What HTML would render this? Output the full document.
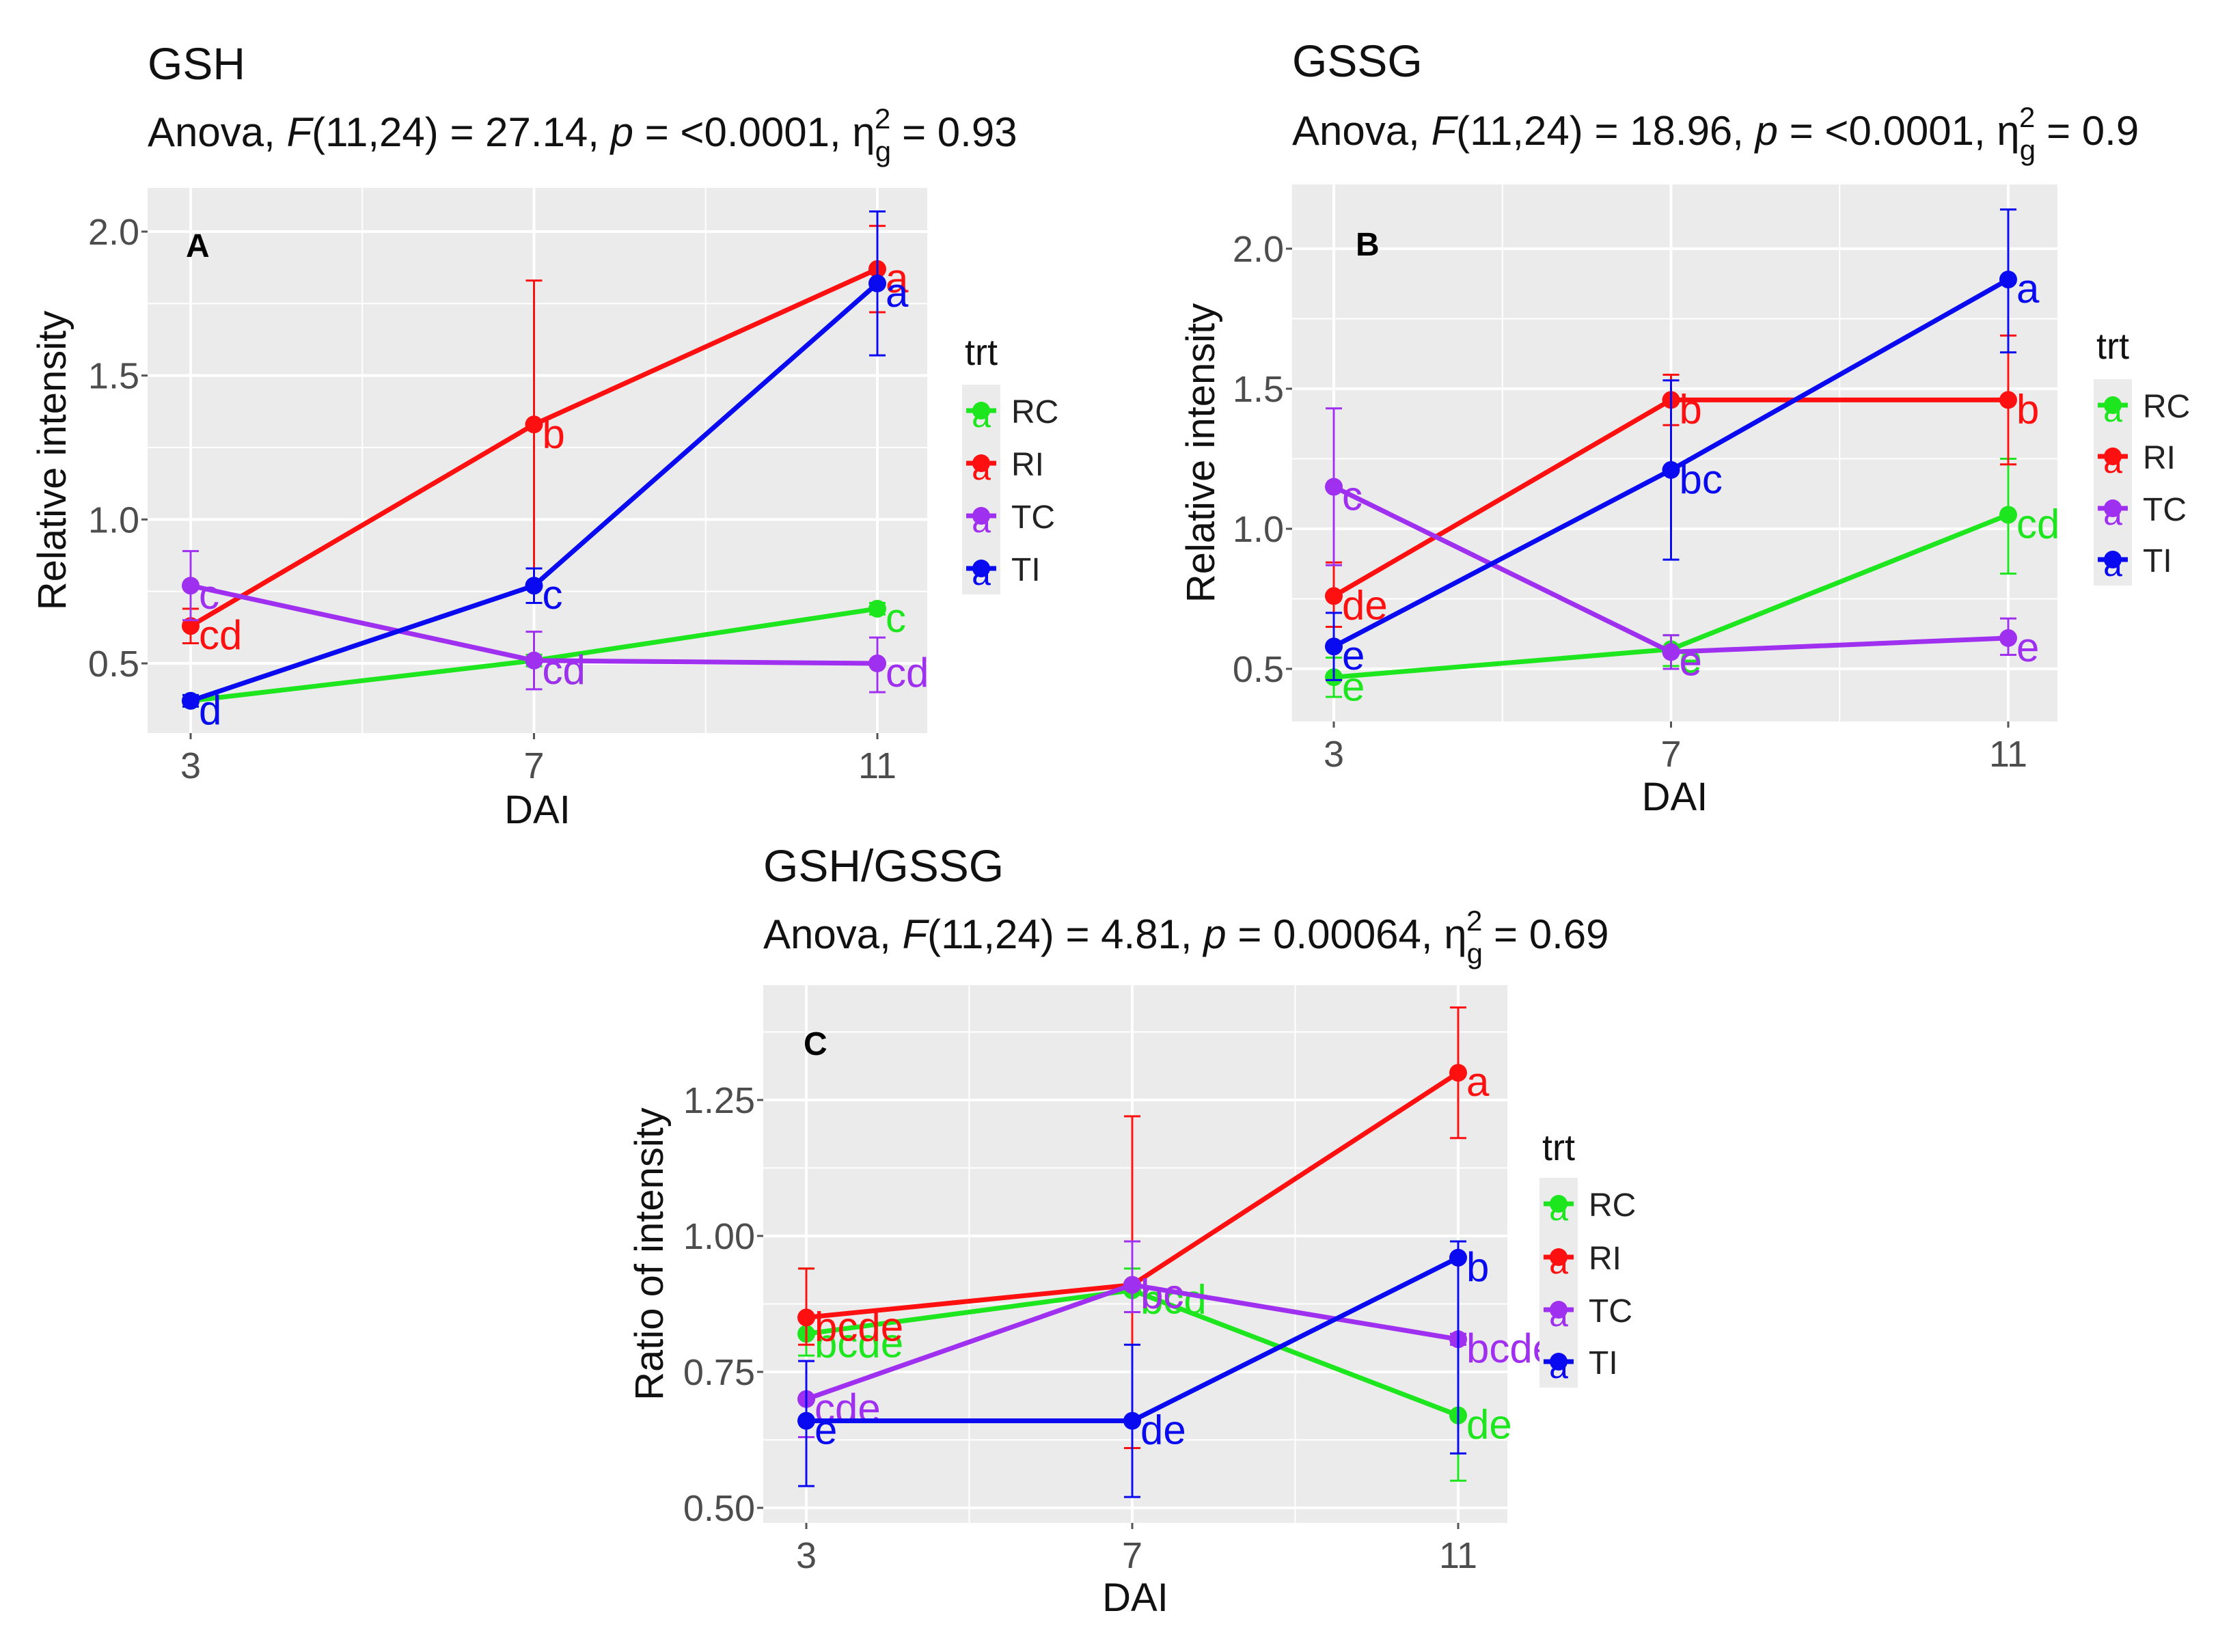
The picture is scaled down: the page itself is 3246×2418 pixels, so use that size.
<!DOCTYPE html>
<html><head><meta charset="utf-8"><style>
html,body{margin:0;padding:0;background:#fff;}
svg{display:block;font-family:"Liberation Sans",Arial,sans-serif;}
</style></head>
<body>
<svg id="fig" width="3246" height="2418" viewBox="0 0 3246 2418" xmlns="http://www.w3.org/2000/svg"></svg>
<script>
// ---------- data ----------
const days = [3, 7, 11];
const groups = ["RC", "RI", "TC", "TI"];
const colors = {RC:"#1ee61e", RI:"#ff1010", TC:"#a030f0", TI:"#0a0af0"};

// Panel A (GSH)
const gshMean = {RC:[0.37,0.51,0.69], RI:[0.63,1.33,1.87], TC:[0.77,0.51,0.50], TI:[0.37,0.77,1.82]};
const gshLo   = {RC:[0.35,0.49,0.67], RI:[0.57,0.83,1.72], TC:[0.65,0.41,0.40], TI:[0.35,0.71,1.57]};
const gshHi   = {RC:[0.39,0.53,0.71], RI:[0.69,1.83,2.02], TC:[0.89,0.61,0.59], TI:[0.39,0.83,2.07]};
const gshLetters = {RC:["d","cd","c"], RI:["cd","b","a"], TC:["c","cd","cd"], TI:["d","c","a"]};
const gshTicks = [0.5, 1.0, 1.5, 2.0];
const gshTickLabels = ["0.5","1.0","1.5","2.0"];

// Panel B (GSSG)
const gssgMean = {RC:[0.47,0.57,1.05], RI:[0.76,1.46,1.46], TC:[1.15,0.56,0.61], TI:[0.58,1.21,1.89]};
const gssgLo   = {RC:[0.40,0.51,0.84], RI:[0.65,1.37,1.23], TC:[0.87,0.50,0.55], TI:[0.46,0.89,1.63]};
const gssgHi   = {RC:[0.54,0.62,1.25], RI:[0.88,1.55,1.69], TC:[1.43,0.62,0.68], TI:[0.70,1.53,2.14]};
const gssgLetters = {RC:["e","e","cd"], RI:["de","b","b"], TC:["c","e","e"], TI:["e","bc","a"]};
const gssgTicks = [0.5, 1.0, 1.5, 2.0];
const gssgTickLabels = ["0.5","1.0","1.5","2.0"];

// Panel C (GSH/GSSG)
const ratioMean = {RC:[0.82,0.90,0.67], RI:[0.85,0.91,1.30], TC:[0.70,0.91,0.81], TI:[0.66,0.66,0.96]};
const ratioLo   = {RC:[0.78,0.86,0.55], RI:[0.80,0.61,1.18], TC:[0.63,0.86,0.80], TI:[0.54,0.52,0.60]};
const ratioHi   = {RC:[0.94,0.94,0.80], RI:[0.94,1.22,1.42], TC:[0.77,0.99,0.82], TI:[0.77,0.80,0.99]};
const ratioLetters = {RC:["bcde","bcd","de"], RI:["bcde","bc","a"], TC:["cde","bc","bcde"], TI:["e","de","b"]};
const ratioTicks = [0.50, 0.75, 1.00, 1.25];
const ratioTickLabels = ["0.50","0.75","1.00","1.25"];
const dayLabels = ["3","7","11"];

// ---------- drawing ----------
const NS = "http://www.w3.org/2000/svg";
const svg = document.getElementById("fig");
function mk(tag, attrs, parent, name){
  const e = document.createElementNS(NS, tag);
  for (const k in attrs) e.setAttribute(k, attrs[k]);
  
  
  (parent||svg).appendChild(e);
  return e;
}

function panel(cfg){
  const g = mk("g", {}, svg, cfg.id);
  const L=cfg.box[0], T=cfg.box[1], R=cfg.box[2], B=cfg.box[3];
  const xs = d => cfg.x3 + (d-3)*(cfg.x11-cfg.x3)/8;
  const ys = v => cfg.yA + (v-cfg.vA)*(cfg.yB-cfg.yA)/(cfg.vB-cfg.vA);
  const t1 = mk("text", {x:L, y:cfg.titleY, "font-size":66, fill:"#111"}, g, "panel-title");
  t1.textContent = cfg.title;
  const t2 = mk("text", {x:L, y:cfg.subY, "font-size":60, fill:"#111"}, g, "anova-subtitle");
  t2.innerHTML = 'Anova, <tspan font-style="italic">F</tspan>(11,24) = '+cfg.F+', <tspan font-style="italic">p</tspan> = '+cfg.p+', η<tspan dy="22" font-size="42">g</tspan><tspan dy="-48" dx="-24" font-size="42">2</tspan><tspan dy="26"> = '+cfg.eta+'</tspan>';
  mk("rect", {x:L, y:T, width:R-L, height:B-T, fill:"#ebebeb"}, g, "plot-background");
  [5,9].forEach(d=>mk("line",{x1:xs(d),x2:xs(d),y1:T,y2:B,stroke:"#fff","stroke-width":2},g,"x-minor-grid"));
  for (let i=0;i<cfg.ticks.length-1;i++){
    const v=(cfg.ticks[i]+cfg.ticks[i+1])/2;
    mk("line",{x1:L,x2:R,y1:ys(v),y2:ys(v),stroke:"#fff","stroke-width":2},g,"y-minor-grid");
  }
  const step = cfg.ticks[1]-cfg.ticks[0];
  [cfg.ticks[0]-step/2, cfg.ticks[cfg.ticks.length-1]+step/2].forEach(v=>{
    const y=ys(v); if (y>T && y<B) mk("line",{x1:L,x2:R,y1:y,y2:y,stroke:"#fff","stroke-width":2},g,"y-minor-grid");
  });
  days.forEach((d,i)=>{
    mk("line",{x1:xs(d),x2:xs(d),y1:T,y2:B,stroke:"#fff","stroke-width":4},g,"x-major-grid");
    mk("line",{x1:xs(d),x2:xs(d),y1:B,y2:B+9,stroke:"#555","stroke-width":3},g,"x-tick");
    const tl = mk("text",{x:xs(d),y:B+66,"font-size":54,"text-anchor":"middle",fill:"#4d4d4d"},g,"x-tick-label");
    tl.textContent = dayLabels[i];
  });
  cfg.ticks.forEach((v,i)=>{
    mk("line",{x1:L,x2:R,y1:ys(v),y2:ys(v),stroke:"#fff","stroke-width":4},g,"y-major-grid");
    mk("line",{x1:L-9,x2:L,y1:ys(v),y2:ys(v),stroke:"#555","stroke-width":3},g,"y-tick");
    const tl = mk("text",{x:L-12,y:ys(v)+19,"font-size":54,"text-anchor":"end",fill:"#4d4d4d"},g,"y-tick-label");
    tl.textContent = cfg.tickLabels[i];
  });
  const xt = mk("text",{x:(L+R)/2,y:cfg.xTitleY,"font-size":58,"text-anchor":"middle",fill:"#111"},g,"x-axis-title");
  xt.textContent="DAI";
  const yc=(T+B)/2;
  const yt = mk("text",{x:cfg.yTitleX,y:yc,"font-size":58,"text-anchor":"middle",fill:"#111",transform:"rotate(-90 "+cfg.yTitleX+" "+yc+")"},g,"y-axis-title");
  yt.textContent=cfg.yTitle;
  const pl = mk("text",{x:cfg.letterX,y:cfg.letterY,"font-size":48,"font-weight":"bold",fill:"#000"},g,"panel-letter");
  pl.textContent=cfg.letter;
  groups.forEach(gr=>{
    const c=colors[gr];
    const sg = mk("g",{},g,"series-"+gr.toLowerCase());
    const pts = days.map((d,i)=>xs(d)+","+ys(cfg.mean[gr][i])).join(" ");
    mk("polyline",{points:pts,fill:"none",stroke:c,"stroke-width":7},sg,"series-line-"+gr.toLowerCase());
    days.forEach((d,i)=>{
      const x=xs(d), lo=ys(cfg.lo[gr][i]), hi=ys(cfg.hi[gr][i]);
      mk("line",{x1:x,x2:x,y1:lo,y2:hi,stroke:c,"stroke-width":3},sg,"error-bar");
      mk("line",{x1:x-12,x2:x+12,y1:lo,y2:lo,stroke:c,"stroke-width":3},sg,"error-cap");
      mk("line",{x1:x-12,x2:x+12,y1:hi,y2:hi,stroke:c,"stroke-width":3},sg,"error-cap");
      mk("circle",{cx:x,cy:ys(cfg.mean[gr][i]),r:13,fill:c},sg,"point-"+gr.toLowerCase()+"-day"+d);
      const lt = mk("text",{x:x+12,y:ys(cfg.mean[gr][i])+34,"font-size":60,fill:c},sg,"group-letter");
      lt.textContent=cfg.letters[gr][i];
    });
  });
  const lg = mk("g",{},g,"legend");
  const lt = mk("text",{x:cfg.legX-24,y:cfg.legY,"font-size":54,fill:"#111"},lg,"legend-title");
  lt.textContent="trt";
  mk("rect",{x:cfg.legX-28,y:cfg.legKeys[0]-38,width:56,height:cfg.legKeys[3]-cfg.legKeys[0]+76,fill:"#ebebeb"},lg,"legend-key-background");
  groups.forEach((gr,i)=>{
    const y=cfg.legKeys[i];
    const e = mk("g",{},lg,"legend-entry-"+gr.toLowerCase());
    mk("line",{x1:cfg.legX-22,x2:cfg.legX+22,y1:y,y2:y,stroke:colors[gr],"stroke-width":7},e,"legend-line");
    mk("circle",{cx:cfg.legX,cy:y,r:13,fill:colors[gr]},e,"legend-point");
    const a = mk("text",{x:cfg.legX,y:y+24,"font-size":50,"text-anchor":"middle",fill:colors[gr]},e,"legend-letter");
    a.textContent="a";
    const lb = mk("text",{x:cfg.legX+44,y:y+18,"font-size":48,fill:"#222"},e,"legend-label");
    lb.textContent=gr;
  });
}

panel({id:"panel-a-gsh", title:"GSH", F:"27.14", p:"&lt;0.0001", eta:"0.93", titleY:116, subY:214,
  box:[216,275,1357,1073], x3:279, x11:1284, vA:0.5, yA:971, vB:2.0, yB:339,
  ticks:gshTicks, tickLabels:gshTickLabels, yTitle:"Relative intensity", yTitleX:96, xTitleY:1205,
  letter:"A", letterX:272, letterY:376, mean:gshMean, lo:gshLo, hi:gshHi, letters:gshLetters,
  legX:1436, legY:534, legKeys:[601,678,755,832]});

panel({id:"panel-b-gssg", title:"GSSG", F:"18.96", p:"&lt;0.0001", eta:"0.9", titleY:112, subY:212,
  box:[1891,270,3011,1056], x3:1952, x11:2939, vA:0.5, yA:979, vB:2.0, yB:364,
  ticks:gssgTicks, tickLabels:gssgTickLabels, yTitle:"Relative intensity", yTitleX:1777, xTitleY:1186,
  letter:"B", letterX:1984, letterY:374, mean:gssgMean, lo:gssgLo, hi:gssgHi, letters:gssgLetters,
  legX:3092, legY:525, legKeys:[593,668,744,819]});

panel({id:"panel-c-ratio", title:"GSH/GSSG", F:"4.81", p:"0.00064", eta:"0.69", titleY:1290, subY:1388,
  box:[1117,1442,2206,2229], x3:1180, x11:2134, vA:0.5, yA:2207, vB:1.25, yB:1610,
  ticks:ratioTicks, tickLabels:ratioTickLabels, yTitle:"Ratio of intensity", yTitleX:970, xTitleY:2358,
  letter:"C", letterX:1176, letterY:1544, mean:ratioMean, lo:ratioLo, hi:ratioHi, letters:ratioLetters,
  legX:2281, legY:1698, legKeys:[1762,1840,1917,1993]});
</script>
</body></html>
